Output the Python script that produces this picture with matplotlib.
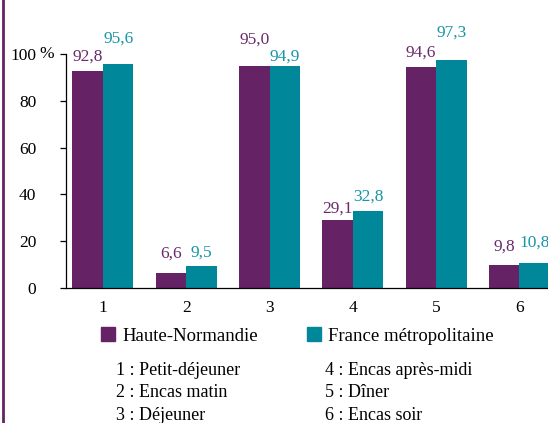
import matplotlib
matplotlib.use("Agg")
import numpy as np
import matplotlib.pyplot as plt
from matplotlib.patches import Patch
from matplotlib.lines import Line2D
from matplotlib import font_manager

# data
categories = ["1", "2", "3", "4", "5", "6"]
haute_normandie = [92.8, 6.6, 95.0, 29.1, 94.6, 9.8]
france_metro = [95.6, 9.5, 94.9, 32.8, 97.3, 10.8]
series_names = ["Haute-Normandie", "France métropolitaine"]
key_left = ["1 : Petit-déjeuner", "2 : Encas matin", "3 : Déjeuner"]
key_right = ["4 : Encas après-midi", "5 : Dîner", "6 : Encas soir"]
yticks = [0, 20, 40, 60, 80, 100]

# label offsets above bar tops (pixels), placed by hand in the original
off_hn = [14, 19, 26, 11, 14, 18]
off_fm = [26, 13, 9, 15, 28, 20]

purple = "#652264"
teal = "#00889a"
purple_txt = "#6b2a6a"
teal_txt = "#1596a6"

names = {f.name for f in font_manager.fontManager.ttflist}
serif = [n for n in ["Liberation Serif", "Times New Roman", "DejaVu Serif"] if n in names]
plt.rcParams["font.family"] = "serif"
plt.rcParams["font.serif"] = serif

fig = plt.figure(figsize=(5.48, 4.23), dpi=100)
ax = fig.add_axes([66 / 548, 135 / 423, (548 - 66) / 548, 234 / 423])

x = np.arange(1, len(categories) + 1)
w = 0.366
ax.bar(x - w / 2, haute_normandie, w, color=purple, label=series_names[0])
ax.bar(x + w / 2, france_metro, w, color=teal, label=series_names[1])

for xi, v, off in zip(x - w / 2, haute_normandie, off_hn):
    ax.annotate(f"{v:.1f}".replace(".", ","), (xi, v), xytext=(0, off),
                textcoords="offset pixels", ha="center", va="center",
                color=purple_txt, fontsize=12.5, annotation_clip=False)
for xi, v, off in zip(x + w / 2, france_metro, off_fm):
    ax.annotate(f"{v:.1f}".replace(".", ","), (xi, v), xytext=(0, off),
                textcoords="offset pixels", ha="center", va="center",
                color=teal_txt, fontsize=12.5, annotation_clip=False)

ax.set_xlim(1 - 0.444, 1 - 0.444 + (548 - 66) / 83.3)
ax.set_ylim(0, 100)
ax.set_xticks(x)
ax.set_xticklabels(categories)
ax.set_yticks(yticks)
ax.set_yticklabels([str(t) for t in yticks])
ax.tick_params(axis="x", length=0, pad=9, labelsize=12.5)
ax.tick_params(axis="y", direction="out", length=4.5, width=0.9, pad=17, labelsize=12.5)
ax.annotate("%", (0, 100), xycoords=("axes fraction", "data"), xytext=(-27, 0),
            textcoords="offset pixels", ha="left", va="center", fontsize=12.5)
for s in ["top", "right"]:
    ax.spines[s].set_visible(False)
ax.spines["left"].set_linewidth(0.9)
ax.spines["bottom"].set_linewidth(0.9)

handles = [Patch(color=purple), Patch(color=teal)]
fig.legend(handles, series_names, ncol=2, loc="center left",
           bbox_to_anchor=(84 / 548, 1 - 336 / 423), frameon=False,
           fontsize=13.5, handlelength=0.75, handleheight=0.75,
           handletextpad=0.4, columnspacing=2.6)

for i, (l, r) in enumerate(zip(key_left, key_right)):
    yy = 1 - (370 + 22.5 * i) / 423
    fig.text(116 / 548, yy, l, ha="left", va="center", fontsize=13)
    fig.text(325 / 548, yy, r, ha="left", va="center", fontsize=13)

fig.add_artist(Line2D([2.5 / 548, 2.5 / 548], [0, 1], color=purple, lw=2))

fig.savefig("out.png", dpi=100)
